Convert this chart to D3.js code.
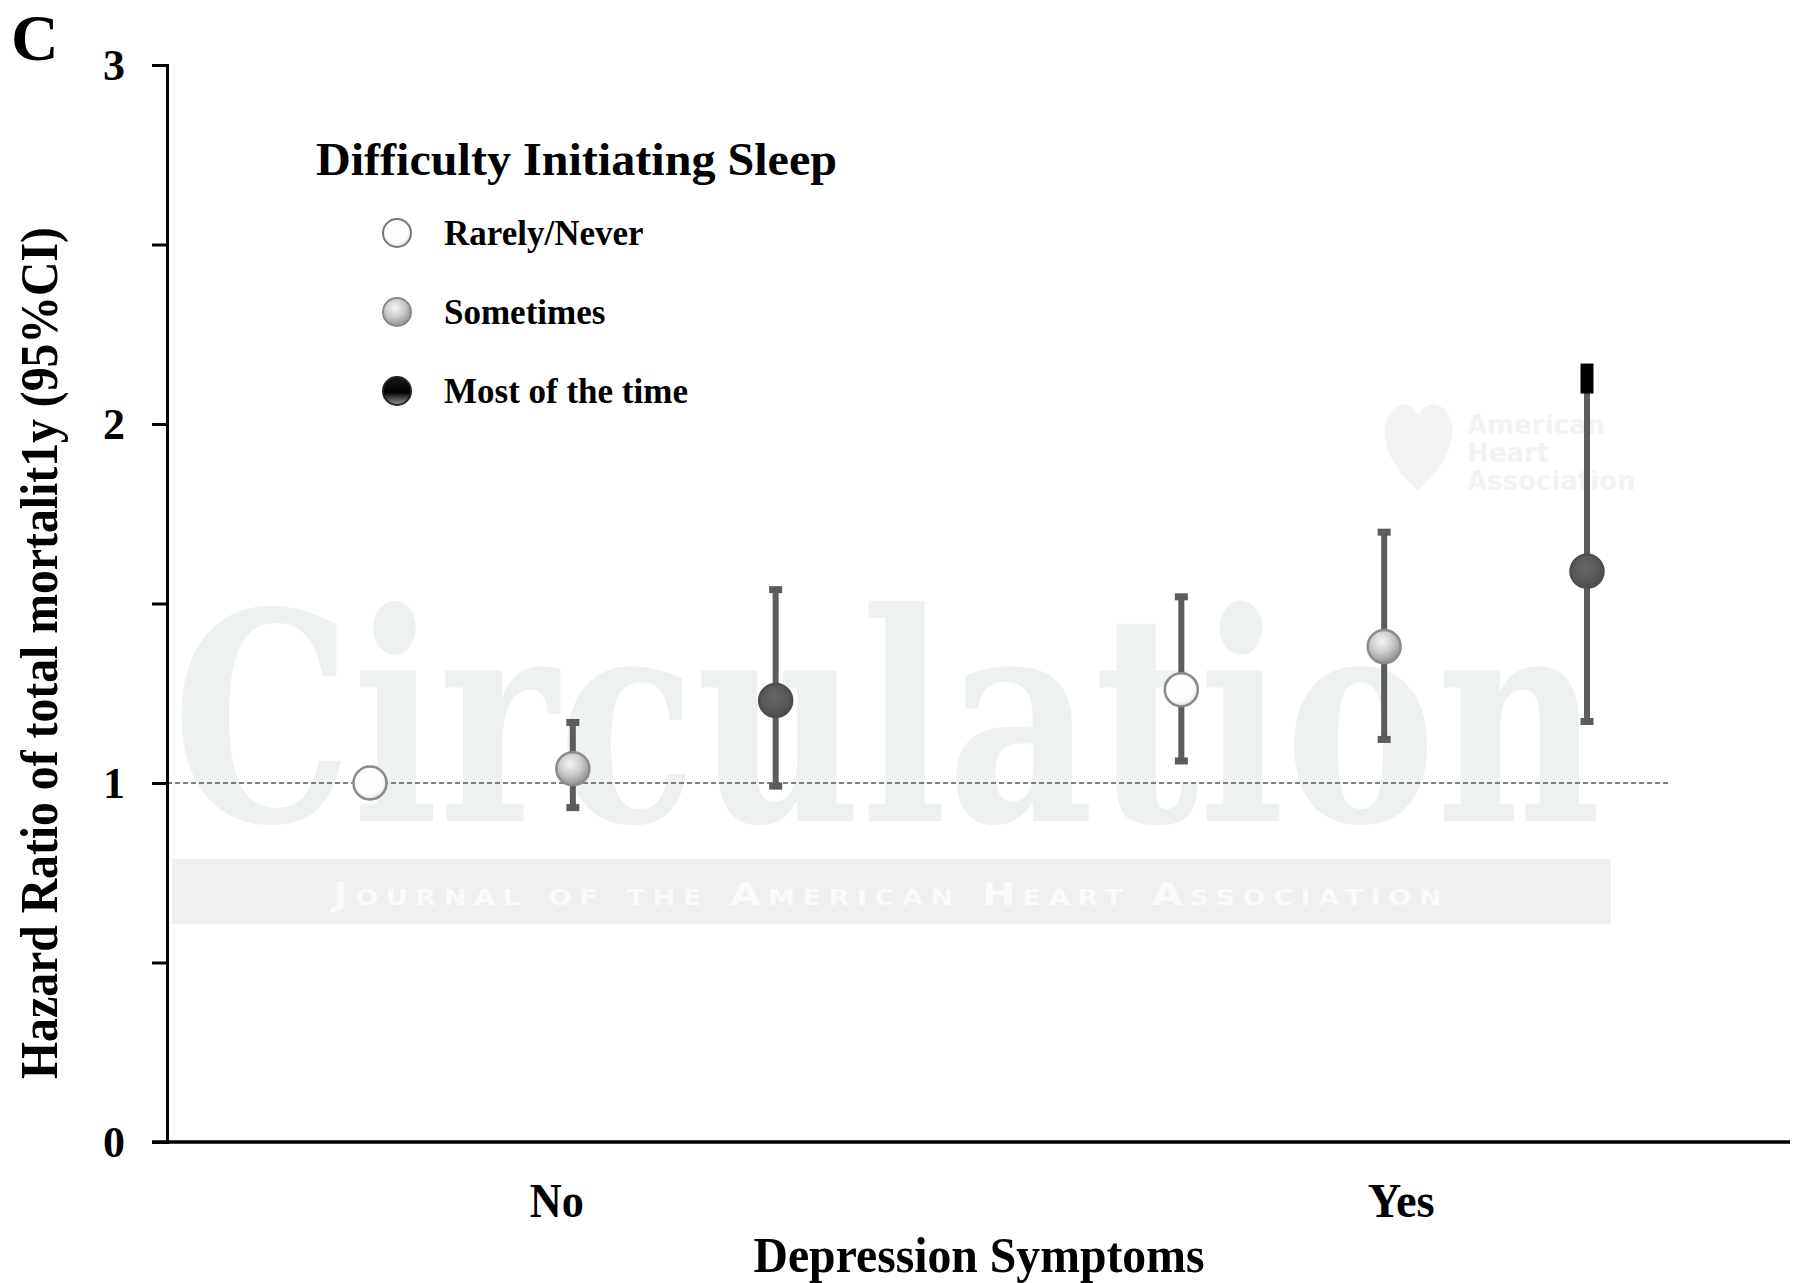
<!DOCTYPE html>
<html>
<head>
<meta charset="utf-8">
<script src="https://cdn.jsdelivr.net/npm/d3@7"></script>
<style>
  body { margin: 0; background: #fff; }
  svg { display: block; }
  text { font-family: "Liberation Serif", "Times New Roman", serif; }
</style>
</head>
<body>
<div id="chart"></div>
<script>
// groups on the x axis and the three sleep categories inside each group
var groups = ["No", "Yes"];
var levels = ["Rarely/Never", "Sometimes", "Most of the time"];

// hazard ratios and 95% CI, order: No x 3 levels, then Yes x 3 levels
var hr = [1.00, 1.04, 1.23, 1.26, 1.38, 1.59];
var ciLow = [null, 0.93, 0.99, 1.06, 1.12, 1.17];
var ciHigh = [null, 1.17, 1.54, 1.52, 1.70, 2.16];

var yTicks = [0, 0.5, 1, 1.5, 2, 2.5, 3];

var W = 1800, H = 1283;
var svg = d3.select("#chart").append("svg")
    .attr("width", W)
    .attr("height", H);

var defs = svg.append("defs");
function radial(id, stops, cx, cy) {
    var g = defs.append("radialGradient").attr("id", id)
        .attr("cx", cx).attr("cy", cy).attr("r", "60%");
    stops.forEach(function (s) {
        g.append("stop").attr("offset", s[0]).attr("stop-color", s[1]);
    });
}
radial("g0", [["0%", "#ffffff"], ["75%", "#fcfcfc"], ["100%", "#dedede"]], "45%", "40%");
radial("g1", [["0%", "#f4f4f4"], ["55%", "#cdcdcd"], ["100%", "#9c9c9c"]], "42%", "35%");
radial("g2", [["0%", "#666666"], ["70%", "#575757"], ["100%", "#4b4b4b"]], "45%", "40%");
var lg = defs.append("linearGradient").attr("id", "leg2")
    .attr("x1", 0).attr("x2", 0).attr("y1", 0).attr("y2", 1);
lg.append("stop").attr("offset", "0%").attr("stop-color", "#1a1a1a");
lg.append("stop").attr("offset", "55%").attr("stop-color", "#000");
lg.append("stop").attr("offset", "100%").attr("stop-color", "#9a9a9a");

var fills = ["url(#g0)", "url(#g1)", "url(#g2)"];
var strokes = ["#8a8a8a", "#8c8c8c", "#4e4e4e"];
var legendFills = ["url(#g0)", "url(#g1)", "url(#leg2)"];

// scales
var y = d3.scaleLinear().domain([0, 3]).range([1142, 65]);
// slot index: group * 4 + level (leaves a gap between groups)
var x = d3.scaleLinear().domain([0, 6]).range([370, 1587]);

var points = hr.map(function (v, i) {
    var g = Math.floor(i / levels.length), l = i % levels.length;
    return { group: groups[g], level: l, slot: g * 4 + l, hr: v, lo: ciLow[i], hi: ciHigh[i] };
});

// watermark (journal)
var wm = svg.append("g").attr("class", "watermark");
wm.append("text")
    .attr("x", 172).attr("y", 821)
    .attr("textLength", 1429).attr("lengthAdjust", "spacingAndGlyphs")
    .style("font-family", "'DejaVu Serif', serif")
    .style("font-weight", "bold")
    .style("font-size", "290px")
    .style("fill", "#eef1f2")
    .text("Circulation");
wm.append("rect")
    .attr("x", 172).attr("y", 859).attr("width", 1439).attr("height", 65)
    .style("fill", "#eef0f1");
wm.append("text")
    .attr("x", 333).attr("y", 905)
    .attr("textLength", 1116).attr("lengthAdjust", "spacingAndGlyphs")
    .style("font-family", "'DejaVu Sans', sans-serif")
    .style("font-weight", "bold")
    .style("font-variant", "small-caps")
    .style("font-size", "32px")
    .style("letter-spacing", "6px")
    .style("fill", "#fbfbfb")
    .text("Journal of the American Heart Association");
wm.append("path")
    .attr("d", "M1418,490 C1380,460 1378,420 1395,408 C1408,398 1418,410 1418,418 C1418,410 1430,398 1443,408 C1460,420 1456,460 1418,490 Z")
    .style("fill", "#f3f3f3");
["American", "Heart", "Association"].forEach(function (t, i) {
    wm.append("text")
        .attr("x", 1467).attr("y", 434 + i * 28)
        .style("font-family", "'DejaVu Sans', sans-serif")
        .style("font-weight", "bold")
        .style("font-size", "26px")
        .style("fill", "#f3f3f3")
        .text(t);
});

// reference line at HR = 1
svg.append("line")
    .attr("x1", 167).attr("x2", 1668)
    .attr("y1", y(1)).attr("y2", y(1))
    .style("stroke", "#555")
    .style("stroke-width", 1.6)
    .style("stroke-dasharray", "5,3");

// y axis
var yAxis = svg.append("g")
    .attr("transform", "translate(167,0)")
    .call(d3.axisLeft(y).tickValues(yTicks).tickSize(15).tickPadding(27)
        .tickFormat(function (d) { return d % 1 === 0 ? d3.format("d")(d) : ""; }));
yAxis.select(".domain").style("stroke", "#000").style("stroke-width", 3);
yAxis.selectAll(".tick line").style("stroke", "#000").style("stroke-width", 3);
yAxis.selectAll(".tick text")
    .style("font-family", "'Liberation Serif', serif")
    .style("font-weight", "bold")
    .style("font-size", "44px")
    .style("fill", "#000");

// x axis line
svg.append("line")
    .attr("x1", 152).attr("x2", 1790)
    .attr("y1", y(0)).attr("y2", y(0))
    .style("stroke", "#000").style("stroke-width", 3.5);

// group labels
var labelShift = [-16, 17];
svg.selectAll(".glabel")
    .data(groups).enter().append("text")
    .attr("class", "glabel")
    .attr("x", function (d, i) { return x(i * 4 + 1) + labelShift[i]; })
    .attr("y", 1217)
    .attr("text-anchor", "middle")
    .style("font-weight", "bold")
    .style("font-size", "48px")
    .text(function (d) { return d; })
    .each(function (d) {
        d3.select(this).attr("textLength", d === "No" ? 54 : 67).attr("lengthAdjust", "spacingAndGlyphs");
    });

svg.append("text")
    .attr("x", 979).attr("y", 1272)
    .attr("text-anchor", "middle")
    .attr("textLength", 451).attr("lengthAdjust", "spacingAndGlyphs")
    .style("font-weight", "bold")
    .style("font-size", "50px")
    .text("Depression Symptoms");

svg.append("text")
    .attr("transform", "translate(57,653) rotate(-90)")
    .attr("text-anchor", "middle")
    .attr("textLength", 852).attr("lengthAdjust", "spacingAndGlyphs")
    .style("font-weight", "bold")
    .style("font-size", "52px")
    .text("Hazard Ratio of total mortalit1y (95%CI)");

svg.append("text")
    .attr("x", 11).attr("y", 60)
    .style("font-weight", "bold")
    .style("font-size", "66px")
    .text("C");

// error bars
var ci = points.filter(function (d) { return d.lo != null; });
var maxHi = d3.max(ci, function (d) { return d.hi; });
var bars = svg.append("g").attr("class", "bars");
bars.selectAll("line")
    .data(ci).enter().append("line")
    .attr("x1", function (d) { return x(d.slot); })
    .attr("x2", function (d) { return x(d.slot); })
    .attr("y1", function (d) { return y(d.lo); })
    .attr("y2", function (d) { return y(d.hi); })
    .style("stroke", "#5c5c5c")
    .style("stroke-width", 6);
bars.selectAll(".capHi")
    .data(ci).enter().append("rect")
    .attr("x", function (d) { return x(d.slot) - 6.5; })
    .attr("y", function (d) { return y(d.hi) - 3; })
    .attr("width", 13)
    .attr("height", function (d) { return d.hi === maxHi ? 30 : 7; })
    .style("fill", function (d) { return d.hi === maxHi ? "#000" : "#5c5c5c"; });
bars.selectAll(".capLo")
    .data(ci).enter().append("rect")
    .attr("x", function (d) { return x(d.slot) - 6.5; })
    .attr("y", function (d) { return y(d.lo) - 4; })
    .attr("width", 13)
    .attr("height", 7)
    .style("fill", "#5c5c5c");

// point estimates
svg.selectAll(".pt")
    .data(points).enter().append("circle")
    .attr("class", "pt")
    .attr("cx", function (d) { return x(d.slot); })
    .attr("cy", function (d) { return y(d.hr); })
    .attr("r", 16.5)
    .style("fill", function (d) { return fills[d.level]; })
    .style("stroke", function (d) { return strokes[d.level]; })
    .style("stroke-width", 2.5);

// legend
var legend = svg.append("g").attr("class", "legend");
legend.append("text")
    .attr("x", 316).attr("y", 175)
    .attr("textLength", 521).attr("lengthAdjust", "spacingAndGlyphs")
    .style("font-weight", "bold")
    .style("font-size", "46px")
    .text("Difficulty Initiating Sleep");
var rows = legend.selectAll(".row")
    .data(levels).enter().append("g")
    .attr("transform", function (d, i) { return "translate(0," + [233, 312, 391][i] + ")"; });
rows.append("circle")
    .attr("cx", 397).attr("cy", 0).attr("r", 14)
    .style("fill", function (d, i) { return legendFills[i]; })
    .style("stroke", function (d, i) { return ["#777", "#888", "#222"][i]; })
    .style("stroke-width", 2);
rows.append("text")
    .attr("x", 444).attr("y", 12)
    .style("font-weight", "bold")
    .style("font-size", "35px")
    .text(function (d) { return d; });
</script>
</body>
</html>
